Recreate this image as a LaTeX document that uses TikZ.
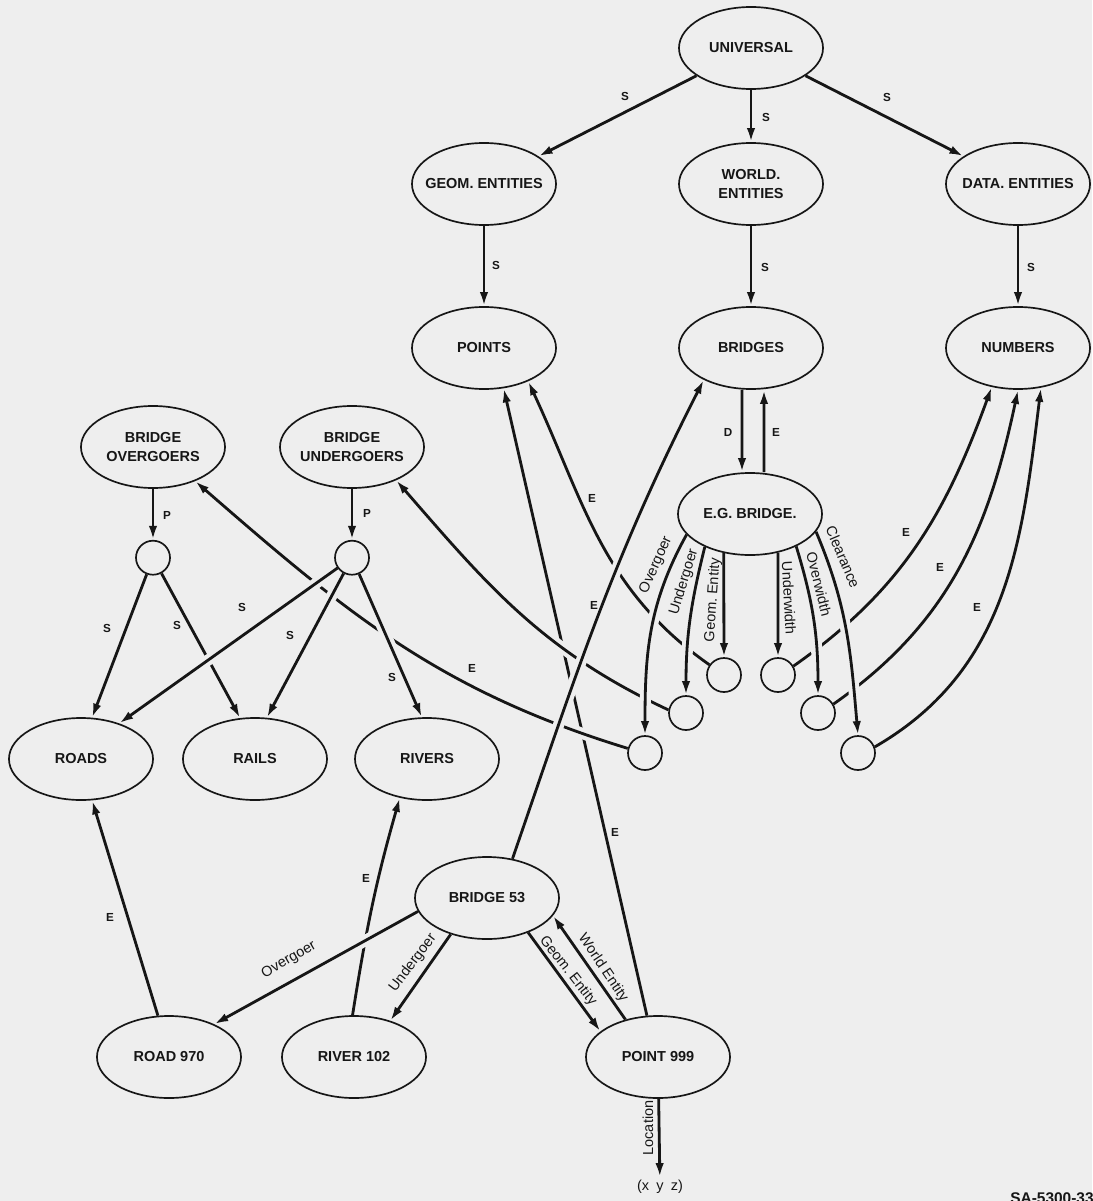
\documentclass[tikz,border=0pt]{standalone}
\usepackage{fontspec}
\setmainfont{Liberation Sans}
\usepackage{tikz}
\usetikzlibrary{positioning,shapes.geometric,arrows.meta}
\pgfdeclarelayer{bg}
\pgfsetlayers{bg,main}
\definecolor{paper}{HTML}{EEEEEE}
\definecolor{ink}{HTML}{161616}
\newcommand{\entfont}{\fontsize{10.3}{13}\selectfont\bfseries}
\newcommand{\lblfont}{\fontsize{8.3}{9}\selectfont\bfseries}
\newcommand{\attfont}{\fontsize{10.3}{12}\selectfont}

\begin{document}
\begin{tikzpicture}[x=0.025cm, y=0.025cm, >={Latex[length=10pt,width=6pt]},
entity/.style={ellipse, draw=ink, line width=1.2pt, fill=paper, text=ink, font=\entfont, align=center, minimum width=3.6cm, minimum height=2.05cm, inner xsep=-0.5cm, inner ysep=0pt},
joint/.style={circle, draw=ink, line width=1.2pt, fill=paper, minimum size=0.85cm, inner sep=0pt},
letterlbl/.style={font=\lblfont, text=ink, inner sep=0pt},
attrlbl/.style={font=\attfont, text=ink, inner sep=0pt},
relarrow/.style={->, draw=ink, line width=2pt},
ontop/.style={preaction={draw=paper, line width=8pt, -}},
]
\useasboundingbox (0,0) rectangle (1092,-1201);

%Class hierarchy
\node[entity] (univ) at (751,-48) {UNIVERSAL};
\node[entity] (geom) at (484,-184) {GEOM. ENTITIES};
\node[entity] (world) at (751,-184) {WORLD.\\ENTITIES};
\node[entity] (data) at (1018,-184) {DATA. ENTITIES};
\node[entity] (points) at (484,-348) {POINTS};
\node[entity] (bridges) at (751,-348) {BRIDGES};
\node[entity] (numbers) at (1018,-348) {NUMBERS};
\node[entity] (egb) at (750,-514) {E.G. BRIDGE.};

%Overgoers and undergoers
\node[entity] (bo) at (153,-447) {BRIDGE\\OVERGOERS};
\node[entity] (bu) at (352,-447) {BRIDGE\\UNDERGOERS};
\node[joint] (pbo) [below=1.275cm of bo] {};
\node[joint] (pbu) [below=1.275cm of bu] {};
\node[entity] (roads) at (81,-759) {ROADS};
\node[entity] (rails) at (255,-759) {RAILS};
\node[entity] (rivers) at (427,-759) {RIVERS};

%Slots of E.G. BRIDGE.
\node[joint] (cog) at (645,-753) {};
\node[joint] (cug) at (686,-713) {};
\node[joint] (cge) at (724,-675) {};
\node[joint] (cuw) at (778,-675) {};
\node[joint] (cow) at (818,-713) {};
\node[joint] (ccl) at (858,-753) {};

%Instances
\node[entity] (b53) at (487,-898) {BRIDGE 53};
\node[entity] (road) at (169,-1057) {ROAD 970};
\node[entity] (river) at (354,-1057) {RIVER 102};
\node[entity] (pt) at (658,-1057) {POINT 999};
\node[attrlbl, inner sep=2pt] (xyz) at (660,-1187) {(x\enspace y\enspace z)};
\node[font=\fontsize{11}{13}\selectfont\bfseries, text=ink, anchor=north west, inner sep=0pt] (sanum) at (1010,-1192) {SA-5300-33};

\begin{pgfonlayer}{bg}
\fill[paper] (0,0) rectangle (1092,-1201);

%Links that are crossed by others
\draw[relarrow] (pt.105) -- (points.296);
\draw[relarrow] (cge.145) to[out=145,in=-65] (points.323);
\draw[relarrow] (cuw.30) to[out=35,in=250] (numbers.236);
\draw[relarrow] (cow.30) to[out=35,in=258] (numbers.270);
\draw[relarrow] (ccl.20) to[out=30,in=263] (numbers.300);
\draw[relarrow,ontop] (cog.165) to[out=163,in=-41] (bo.321);
\draw[relarrow,ontop] (cug.170) to[out=155,in=-49] (bu.323);

%Hierarchy
\draw[relarrow] (univ) -- (geom);
\draw[relarrow] (univ) -- (world);
\draw[relarrow] (univ) -- (data);
\draw[relarrow] (geom) -- (points);
\draw[relarrow] (world) -- (bridges);
\draw[relarrow] (data) -- (numbers);
\draw[relarrow] ([xshift=-0.225cm]bridges.south) -- ([xshift=-0.2cm]egb.north);
\draw[relarrow] ([xshift=0.35cm]egb.north) -- ([xshift=0.325cm]bridges.south);

%Partitions
\draw[relarrow] (bo) -- (pbo);
\draw[relarrow] (bu) -- (pbu);
\draw[relarrow] (pbo) -- (roads.75);
\draw[relarrow] (pbo) -- (rails.110);
\draw[relarrow,ontop] (pbu) -- (roads.43);
\draw[relarrow,ontop] (pbu) -- (rails.74);
\draw[relarrow,ontop] (pbu) -- (rivers.97);

%Slots
\draw[relarrow,ontop] (egb.198) to[out=241,in=90] (cog.north);
\draw[relarrow,ontop] (egb.216) to[out=256,in=90] (cug.north);
\draw[relarrow] (egb.236) -- (cge.north);
\draw[relarrow] (egb.306) -- (cuw.north);
\draw[relarrow,ontop] (egb.325) to[out=287,in=90] (cow.north);
\draw[relarrow,ontop] (egb.345) to[out=293,in=95] (ccl.north);

%Instances
\draw[relarrow,ontop] (b53.57) to[out=71,in=243] (bridges.214);
\draw[relarrow] (road.105) -- (roads.285);
\draw[relarrow] (river.92) to[out=81,in=254] (rivers.235);
\draw[relarrow,ontop] (b53.191) -- (road.36);
\draw[relarrow] (b53.225) -- (river.45);
\draw[relarrow] (b53.320) -- (pt.156);
\draw[relarrow] (pt.131) -- (b53.345);
\draw[relarrow] (pt) -- (xyz);
\end{pgfonlayer}

%Letter labels
\node[letterlbl] (ls1) at (625,-96) {S};
\node[letterlbl] (ls2) at (766,-117) {S};
\node[letterlbl] (ls3) at (887,-97) {S};
\node[letterlbl] (ls4) at (496,-265) {S};
\node[letterlbl] (ls5) at (765,-267) {S};
\node[letterlbl] (ls6) at (1031,-267) {S};
\node[letterlbl] (ld) at (728,-432) {D};
\node[letterlbl] (le1) at (776,-432) {E};
\node[letterlbl] (lp1) at (167,-515) {P};
\node[letterlbl] (lp2) at (367,-513) {P};
\node[letterlbl] (ls7) at (107,-628) {S};
\node[letterlbl] (ls8) at (177,-625) {S};
\node[letterlbl] (ls9) at (242,-607) {S};
\node[letterlbl] (ls10) at (290,-635) {S};
\node[letterlbl] (ls11) at (392,-677) {S};
\node[letterlbl] (le2) at (472,-668) {E};
\node[letterlbl] (le3) at (592,-498) {E};
\node[letterlbl] (le4) at (594,-605) {E};
\node[letterlbl] (le5) at (615,-832) {E};
\node[letterlbl] (le6) at (906,-532) {E};
\node[letterlbl] (le7) at (940,-567) {E};
\node[letterlbl] (le8) at (977,-607) {E};
\node[letterlbl] (le9) at (110,-917) {E};
\node[letterlbl] (le10) at (366,-878) {E};

%Slot labels
\node[attrlbl, rotate=66] (aog) at (656,-565) {Overgoer};
\node[attrlbl, rotate=73] (aug) at (684,-582) {Undergoer};
\node[attrlbl, rotate=86] (age) at (713,-600) {Geom.\ Entity};
\node[attrlbl, rotate=-87] (auw) at (789,-598) {Underwidth};
\node[attrlbl, rotate=-76] (aow) at (819,-584) {Overwidth};
\node[attrlbl, rotate=-67] (acl) at (843,-557) {Clearance};
\node[attrlbl, rotate=30] (bog) at (289,-960) {Overgoer};
\node[attrlbl, rotate=53] (bug) at (413,-963) {Undergoer};
\node[attrlbl, rotate=-52] (bge) at (568,-971) {Geom.\ Entity};
\node[attrlbl, rotate=-56] (bwe) at (603,-968) {World Entity};
\node[attrlbl, rotate=90] (bloc) at (648,-1128) {Location};
\end{tikzpicture}
\end{document}
